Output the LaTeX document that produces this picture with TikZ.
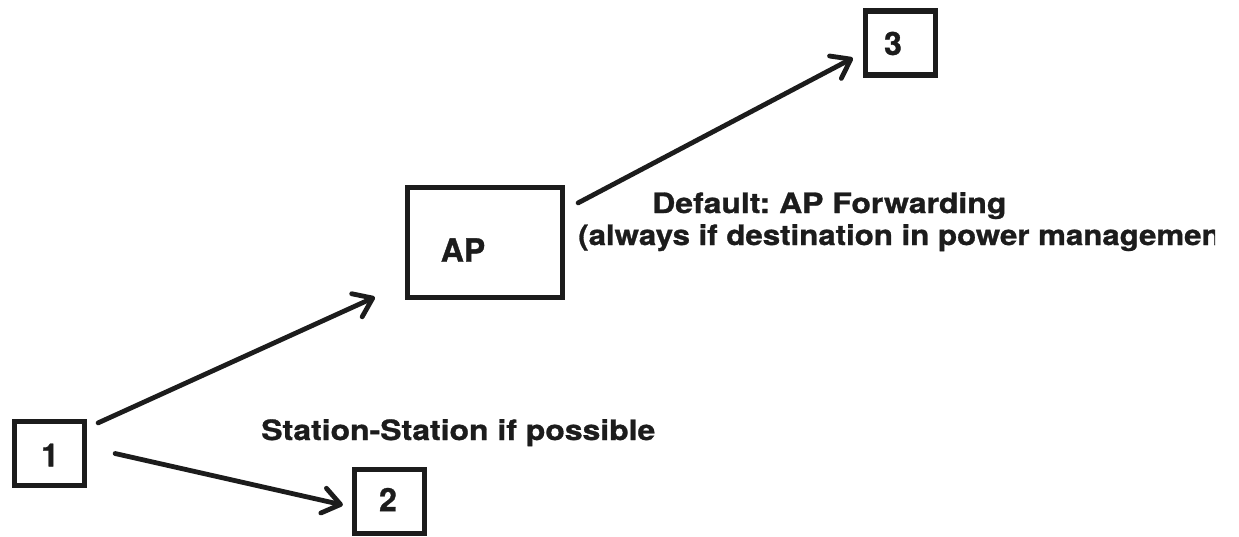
\documentclass[tikz,border=0pt]{standalone}
\usepackage{fontspec}
\usetikzlibrary{arrows.meta}
\newfontfamily\lblfont[FakeStretch=1.14, FakeBold=1]{TeX Gyre Heros}
\newfontfamily\lblfontb[FakeStretch=1.115, FakeBold=1]{TeX Gyre Heros}
\newfontfamily\numfont[FakeBold=1]{TeX Gyre Heros}
\frenchspacing
\definecolor{ink}{RGB}{28,28,28}
\tikzset{
  boxnode/.style={draw=ink, line width=3.9pt, inner sep=0pt, minimum width=52.5pt, minimum height=48pt},
  bigbox/.style={boxnode, minimum width=116.25pt, minimum height=82.5pt},
  numtext/.style={text=ink, font=\numfont\bfseries\fontsize{24}{28}\selectfont, inner sep=0pt},
  lbltext/.style={text=ink, font=\lblfont\bfseries\fontsize{21}{25}\selectfont, inner sep=0pt, anchor=base west},
  lbltextb/.style={lbltext, font=\lblfontb\bfseries\fontsize{21}{25}\selectfont},
  conn/.style={draw=ink, line width=3.6pt, line cap=round, -{Straight Barb[length=13pt, width=19pt, line cap=round, line join=round]}}
}
\begin{document}
\begin{tikzpicture}[x=0.75pt, y=-0.75pt]
\useasboundingbox (0,0) rectangle (1239,536);
\clip (0,0) rectangle (1239,536);
\fill[white] (0,0) rectangle (1239,536);
% boxes
\node[boxnode] (n1) at (49.5,453.5) {};
\node[boxnode] (n2) at (389.5,501.5) {};
\node[boxnode] (n3) at (900.5,43) {};
\node[bigbox] (ap) at (485,242.5) {};
% box texts
\node[numtext] (t1) at (50,455) {1};
\node[numtext] (t2) at (388,499.5) {2};
\node[numtext] (t3) at (893,43.5) {3};
\node[numtext] (tap) at (463,250) {AP};
% connectors
\draw[conn] ([shift={(11,4)}]n1.north east) -- ([shift={(-30,-3)}]ap.south west);
\draw[conn] ([shift={(28,0)}]n1.east) -- ([shift={(-9,3.5)}]n2.west);
\draw[conn] ([shift={(13,18)}]ap.north east) -- ([shift={(-10,15)}]n3.west);
% labels
\node[lbltext] (l1) at (261,440) {Station-Station if possible};
\node[lbltext] (l2) at (652,213) {Default: AP Forwarding};
\begin{scope}
\clip (0,0) rectangle (1215,536);
\node[lbltextb] (l3) at (578,245) {(always if destination in power managemen};
\end{scope}
\end{tikzpicture}
\end{document}
